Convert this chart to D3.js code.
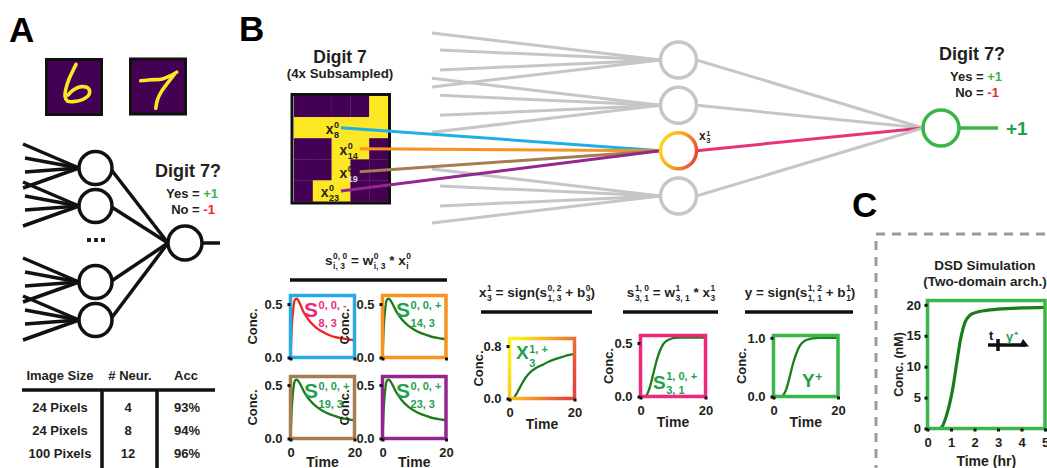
<!DOCTYPE html>
<html>
<head>
<meta charset="utf-8">
<script src="https://cdn.jsdelivr.net/npm/d3@7"></script>
<style>
  body { margin: 0; background: #fff; }
  svg text { font-family: "Liberation Sans", Arial, Helvetica, sans-serif; font-weight: bold; white-space: pre; }
</style>
</head>
<body>
<div id="chart"></div>
<script>
// ---- data ----
const tableHeaders = ['Image Size', '# Neur.', 'Acc'];
const tableImageSize = ['24 Pixels', '24 Pixels', '100 Pixels'];
const tableNeurons = ['4', '8', '12'];
const tableAcc = ['93%', '94%', '96%'];

// 28x28 MNIST strokes (pixel units)
const digit6Stroke = [[15.1,1.8],[13.6,4.8],[11.5,9.3],[9.7,14.7],[9.2,19.2],[10.4,21.5],[13.6,21.9],[19,20.6],[22.2,17.9],[21.7,14.7],[18.1,13.8],[13.6,15.6],[10.9,18.3]];
const digit7Bar = [[4.7,10.9],[10.1,10.4],[16.4,9.9],[20.8,8.1],[24.1,6.3]];
const digit7Stem = [[22.6,7.7],[19.1,12.2],[15.8,16.8],[13.7,21.2],[12.8,25.7]];

// 4x subsampled digit 7 (5x5)
const subsampledGrid = [
  [0,0,0,0,1],
  [1,1,1,1,1],
  [0,0,1,1,0],
  [0,0,1,0,0],
  [0,1,1,0,0]
];
const inputPixels = [8, 14, 19, 23];

// small plots
const tPulse = [0,0.5,1,1.5,2,2.5,3,4,5,6,8,10,12,14,16,18,20];
const s8Minus  = [0,0.33,0.49,0.545,0.55,0.53,0.5,0.43,0.38,0.34,0.28,0.24,0.21,0.19,0.18,0.17,0.16];
const s14Plus  = [0,0.33,0.49,0.545,0.55,0.535,0.51,0.45,0.4,0.36,0.3,0.26,0.23,0.21,0.19,0.18,0.17];
const s19Plus  = [0,0.33,0.49,0.545,0.55,0.535,0.51,0.45,0.4,0.36,0.3,0.26,0.23,0.21,0.19,0.18,0.17];
const s23Plus  = [0,0.33,0.49,0.545,0.55,0.535,0.51,0.45,0.4,0.36,0.3,0.26,0.23,0.21,0.19,0.18,0.17];
const s14Minus = [0,0,0,0,0,0,0,0,0,0,0,0,0,0,0,0,0];

const tX = [0,1,2,3,4,5,6,8,10,12,14,16,18,20];
const x3Plus = [0,0,0.06,0.15,0.24,0.32,0.38,0.46,0.51,0.56,0.6,0.63,0.66,0.68];

const tS = [0,1,1.5,2,3,4,5,6,7,8,9,10,12,14,16,18,20];
const s31Plus = [0,0,0,0.02,0.1,0.22,0.34,0.43,0.49,0.52,0.535,0.545,0.55,0.55,0.55,0.55,0.55];

const tY = [0,2,2.5,3,4,5,6,7,8,9,10,11,12,14,16,18,20];
const yPlus = [0,0,0,0.02,0.13,0.33,0.55,0.72,0.85,0.92,0.96,0.98,0.99,1.0,1.0,1.0,1.0];

// DSD simulation (hours, nM)
const tDSD = [0,0.5,0.6,0.8,1.0,1.1,1.2,1.3,1.4,1.5,1.6,1.8,2.0,2.5,3,4,5];
const dsdYPlus = [0,0,0.2,2,5,7,9.5,12,14.3,16,17.2,18.3,18.7,19.1,19.3,19.5,19.6];
const dsdYMinus = [0,0,0,0,0,0,0,0,0,0,0,0,0,0,0,0,0];
const dsdYTicks = [0,5,10,15,20];
const dsdXTicks = [0,1,2,3,4,5];

// ---- colours ----
const ink = '#231f20';
const purple = '#440154', yellow = '#fde725';
const green = '#39b54a', curveGreen = '#1a7d1a', labelGreen = '#1fa04e';
const red = '#ee2424', pink = '#ec2a7c';

const svg = d3.select('#chart').append('svg').attr('width', 1047).attr('height', 468);
const defs = svg.append('defs');
const grad = (id, stops) => {
  const lg = defs.append('linearGradient').attr('id', id).attr('x1', 0).attr('y1', 0.3).attr('x2', 1).attr('y2', 0.7);
  stops.forEach(([o, c]) => lg.append('stop').attr('offset', o).attr('stop-color', c));
};
grad('ringGrad', [[0, '#ffd51e'], [0.5, '#f8a21e'], [1, '#e8453c']]);
grad('frameGrad', [[0, '#fcee21'], [0.45, '#f7a51e'], [1, '#e6453c']]);

// text with stacked super/subscripts
function richText(parent, x, y, parts, o) {
  const g = parent.append('g');
  const fill = o.fill || ink;
  let cx = 0;
  parts.forEach(p => {
    if (p.t) {
      const t = g.append('text').attr('x', cx).attr('y', 0).attr('font-size', o.size).attr('fill', fill).text(p.t);
      cx += t.node().getComputedTextLength();
    }
    let w = 0;
    if (p.sup) {
      const s = g.append('text').attr('x', cx + 0.5).attr('y', o.supY).attr('font-size', o.small).attr('fill', fill).text(p.sup);
      w = Math.max(w, s.node().getComputedTextLength() + 0.5);
    }
    if (p.sub) {
      const s = g.append('text').attr('x', cx + 0.5).attr('y', o.subY).attr('font-size', o.small).attr('fill', p.subFill || fill).text(p.sub);
      w = Math.max(w, s.node().getComputedTextLength() + 0.5);
    }
    cx += w;
  });
  const shift = o.anchor === 'middle' ? cx / 2 : o.anchor === 'end' ? cx : 0;
  g.attr('transform', `translate(${x - shift},${y})`);
  return g;
}

function yesNo(cx, y0, size) {
  svg.append('text').attr('x', cx).attr('y', y0).attr('text-anchor', 'middle').attr('font-size', size).attr('fill', ink).text('Digit 7?');
  const t1 = svg.append('text').attr('x', cx + 4).attr('y', y0 + 21).attr('text-anchor', 'middle').attr('font-size', 13).attr('fill', ink);
  t1.append('tspan').text('Yes = ');
  t1.append('tspan').attr('fill', green).text('+1');
  const t2 = svg.append('text').attr('x', cx + 5).attr('y', y0 + 37).attr('text-anchor', 'middle').attr('font-size', 13).attr('fill', ink);
  t2.append('tspan').text('No = ');
  t2.append('tspan').attr('fill', red).text('-1');
}

// panel letters
[['A', 9, 42], ['B', 239, 41], ['C', 852, 217]].forEach(([t, x, y]) =>
  svg.append('text').attr('x', x).attr('y', y).attr('font-size', 35).attr('fill', '#000').text(t));

// ================= Panel A =================
function digitBox(x0, y0, strokes) {
  const s = d3.scaleLinear().domain([0, 28]).range([0, 52]);
  const g = svg.append('g').attr('transform', `translate(${x0},${y0})`);
  g.append('rect').attr('x', 1.5).attr('y', 1.5).attr('width', 55).attr('height', 55)
    .attr('fill', purple).attr('stroke', '#111').attr('stroke-width', 3);
  strokes.forEach(st => g.append('path').datum(st).attr('transform', 'translate(3,3)')
    .attr('fill', 'none').attr('stroke', yellow).attr('stroke-width', 3.6)
    .attr('stroke-linecap', 'round').attr('stroke-linejoin', 'round')
    .attr('d', d3.line().x(d => s(d[0])).y(d => s(d[1])).curve(d3.curveCatmullRom)));
}
digitBox(45, 58, [digit6Stroke]);
digitBox(129, 57.5, [digit7Bar, digit7Stem]);

const yA = d3.scaleLinear().domain([0, 4]).range([168, 320]);
const aNeurons = [0, 1, 3, 4];
const aOut = { x: 185, y: 243 };
const aOffsets = [-24, -10, 4, 20], aStartX = [23, 25, 25, 23];
aNeurons.forEach(i => {
  aOffsets.forEach((o, k) => svg.append('line')
    .attr('x1', aStartX[k]).attr('y1', yA(i) + o).attr('x2', 79).attr('y2', yA(i))
    .attr('stroke', '#111').attr('stroke-width', 3.5));
  svg.append('line').attr('x1', 110).attr('y1', yA(i)).attr('x2', aOut.x - 17).attr('y2', aOut.y)
    .attr('stroke', '#111').attr('stroke-width', 3.5);
});
aNeurons.forEach(i => svg.append('circle').attr('cx', 95.5).attr('cy', yA(i)).attr('r', 16.5)
  .attr('fill', '#fff').attr('stroke', '#111').attr('stroke-width', 3.5));
svg.append('line').attr('x1', aOut.x).attr('y1', aOut.y).attr('x2', 220).attr('y2', aOut.y)
  .attr('stroke', '#111').attr('stroke-width', 3.5);
svg.append('circle').attr('cx', aOut.x).attr('cy', aOut.y).attr('r', 17)
  .attr('fill', '#fff').attr('stroke', '#111').attr('stroke-width', 3.5);
[-7, 0, 7].forEach(d => svg.append('rect').attr('x', 94 + d).attr('y', yA(2) - 6).attr('width', 4).attr('height', 4).attr('fill', '#222'));
yesNo(188, 177, 18);

// table
const colX = [60, 130, 186];
tableHeaders.forEach((h, i) => svg.append('text').attr('x', colX[i]).attr('y', 380)
  .attr('text-anchor', 'middle').attr('font-size', 13).attr('fill', ink).text(h));
svg.append('line').attr('x1', 22).attr('x2', 215).attr('y1', 390).attr('y2', 390).attr('stroke', '#111').attr('stroke-width', 3.5);
[102, 157].forEach(x => svg.append('line').attr('x1', x).attr('x2', x).attr('y1', 390).attr('y2', 468).attr('stroke', '#111').attr('stroke-width', 3.5));
const rowY = d3.scalePoint().domain(d3.range(tableImageSize.length)).range([412, 458]);
const cellX = [60, 128, 187];
[tableImageSize, tableNeurons, tableAcc].forEach((col, c) => col.forEach((v, r) =>
  svg.append('text').attr('x', cellX[c]).attr('y', rowY(r))
    .attr('text-anchor', 'middle').attr('font-size', 13).attr('fill', ink).text(v)));

// ================= Panel B =================
svg.append('text').attr('x', 340).attr('y', 63).attr('text-anchor', 'middle').attr('font-size', 17.5).attr('fill', ink).text('Digit 7');
svg.append('text').attr('x', 340).attr('y', 78).attr('text-anchor', 'middle').attr('font-size', 13.3).attr('fill', ink).text('(4x Subsampled)');

const gx = d3.scaleBand().domain(d3.range(5)).range([294, 388]);
const gy = d3.scaleBand().domain(d3.range(5)).range([96, 201.5]);
subsampledGrid.forEach((row, r) => row.forEach((v, c) => svg.append('rect')
  .attr('x', gx(c)).attr('y', gy(r)).attr('width', gx.bandwidth() + 0.3).attr('height', gy.bandwidth() + 0.3)
  .attr('fill', v ? yellow : purple)));
svg.append('rect').attr('x', 292).attr('y', 94.5).attr('width', 97.5).attr('height', 108.5)
  .attr('fill', 'none').attr('stroke', '#111').attr('stroke-width', 3);

const yB = d3.scaleLinear().domain([0, 3]).range([60, 196]);
const hidX = 678.5, hidR = 18;
const bOut = { x: 941, y: 128 };
const bOffsets = [-27, -10, 10, 27], bStartX = [432, 440, 440, 432];
const grey = '#c6c6c6';
[0, 1, 3].forEach(i => bOffsets.forEach((o, k) => svg.append('line')
  .attr('x1', bStartX[k]).attr('y1', yB(i) + o).attr('x2', hidX - hidR).attr('y2', yB(i))
  .attr('stroke', grey).attr('stroke-width', 3)));

const pixColors = ['#1eaee8', '#f7931e', '#a67c52', '#93278f'];
inputPixels.forEach((p, k) => {
  const r = Math.floor((p - 1) / 5), c = (p - 1) % 5;
  const sx = gx(c) + gx.bandwidth() / 2, sy = gy(r) + gy.bandwidth() / 2 + (k === 2 ? 2 : 0);
  svg.append('line').attr('x1', sx).attr('y1', sy).attr('x2', hidX - hidR).attr('y2', yB(2))
    .attr('stroke', pixColors[k]).attr('stroke-width', 3);
  const onDark = !subsampledGrid[r][c];
  richText(svg, sx - 2, sy + 6, [{ t: 'x', sup: '0', sub: String(p), subFill: onDark ? '#d9d3e0' : ink }],
    { size: 14, small: 9, supY: -5.5, subY: 4, anchor: 'end', fill: ink });
});

[0, 1, 2, 3].forEach(i => svg.append('line').attr('x1', hidX + hidR).attr('y1', yB(i))
  .attr('x2', bOut.x - 18).attr('y2', bOut.y)
  .attr('stroke', i === 2 ? '#e8317a' : grey).attr('stroke-width', 3));
[0, 1, 2, 3].forEach(i => svg.append('circle').attr('cx', hidX).attr('cy', yB(i)).attr('r', hidR)
  .attr('fill', '#fff').attr('stroke', i === 2 ? 'url(#ringGrad)' : grey).attr('stroke-width', 3.5));
richText(svg, 699, 140, [{ t: 'x', sup: '1', sub: '3' }], { size: 12, small: 7.5, supY: -4.5, subY: 3, fill: ink });

svg.append('line').attr('x1', bOut.x).attr('y1', bOut.y).attr('x2', 998).attr('y2', bOut.y).attr('stroke', green).attr('stroke-width', 3.5);
svg.append('circle').attr('cx', bOut.x).attr('cy', bOut.y).attr('r', 18).attr('fill', '#fff').attr('stroke', green).attr('stroke-width', 3.5);
svg.append('text').attr('x', 1006).attr('y', 134.5).attr('font-size', 19).attr('fill', labelGreen).text('+1');
yesNo(972, 60, 18);

// formulas
const fOpts = { size: 13.5, small: 8.5, supY: -6, subY: 4, anchor: 'middle', fill: ink };
richText(svg, 368, 265, [{ t: 's', sup: '0, 0', sub: 'i, 3' }, { t: ' = w', sup: '0', sub: 'i, 3' }, { t: ' * x', sup: '0', sub: 'i' }], fOpts);
richText(svg, 537, 297, [{ t: 'x', sup: '1', sub: '3' }, { t: ' = sign(s', sup: '0, 2', sub: '1, 3' }, { t: ' + b', sup: '0', sub: '3' }, { t: ')' }], fOpts);
richText(svg, 671, 297, [{ t: 's', sup: '1, 0', sub: '3, 1' }, { t: ' = w', sup: '1', sub: '3, 1' }, { t: ' * x', sup: '1', sub: '3' }], fOpts);
richText(svg, 800, 297, [{ t: 'y = sign(s', sup: '1, 2', sub: '1, 1' }, { t: ' + b', sup: '1', sub: '1' }, { t: ')' }], fOpts);
[[290, 447, 280], [481, 592, 312], [623, 718, 312], [745, 853, 312]].forEach(([a, b, y]) =>
  svg.append('line').attr('x1', a).attr('x2', b).attr('y1', y).attr('y2', y).attr('stroke', '#111').attr('stroke-width', 3.5));

function styleAxis(g) {
  g.attr('font-size', null).attr('font-family', null);
  g.select('.domain').remove();
  g.selectAll('.tick line').attr('stroke', '#111').attr('stroke-width', 3);
  g.selectAll('.tick text').attr('font-size', 13).attr('fill', ink);
}

function miniPlot(p) {
  const g = svg.append('g');
  const x = d3.scaleLinear().domain(p.xDomain || [0, 20]).range([p.x0, p.x1]);
  const y = d3.scaleLinear().domain([0, p.ymax]).range([p.y1, p.y0]);
  p.series.forEach(s => g.append('path').datum(s.t.map((t, i) => [t, s.v[i]]))
    .attr('fill', 'none').attr('stroke', s.color).attr('stroke-width', s.w || 2.3)
    .attr('d', d3.line().x(d => x(d[0])).y(d => y(d[1])).curve(d3.curveMonotoneX)));
  g.append('rect').attr('x', p.x0).attr('y', p.y0).attr('width', p.x1 - p.x0).attr('height', p.y1 - p.y0)
    .attr('fill', 'none').attr('stroke', p.frame).attr('stroke-width', 3.5);
  g.append('g').attr('transform', `translate(${p.x0},0)`)
    .call(d3.axisLeft(y).tickValues(p.yTicks).tickSize(3).tickPadding(p.yPad || 5).tickFormat(p.yFmt || d3.format('.1f')))
    .call(styleAxis);
  g.append('g').attr('transform', `translate(0,${p.y1})`)
    .call(d3.axisBottom(x).tickValues(p.xTicks || [0, 20]).tickSize(3).tickPadding(6).tickFormat(p.xLabels ? d3.format('d') : ''))
    .call(styleAxis);
  if (p.xLabels) g.append('text').attr('x', (p.x0 + p.x1) / 2).attr('y', p.y1 + (p.timeDy || 30)).attr('text-anchor', 'middle')
    .attr('font-size', 14).attr('fill', ink).text(p.xTitle || 'Time');
  g.append('text').attr('transform', `translate(${p.x0 + p.concDx},${(p.y0 + p.y1) / 2}) rotate(-90)`)
    .attr('text-anchor', 'middle').attr('dy', '0.35em').attr('font-size', p.concSize || 13).attr('fill', ink).text(p.yTitle || 'Conc.');
  if (p.label) richText(g, p.label.x, p.label.y, p.label.parts, p.label.o);
  return { x, y, g };
}

const sOpts = f => ({ size: 21, small: 11, supY: -8, subY: 10, fill: f });
miniPlot({ x0: 290.5, x1: 354.5, y0: 295.5, y1: 357.5, ymax: 0.58, yTicks: [0, 0.5], frame: '#29abe2', concDx: -38,
  series: [{ t: tPulse, v: s8Minus, color: red }],
  label: { x: 304, y: 317, parts: [{ t: 'S', sup: '0, 0, -', sub: '8, 3' }], o: sOpts(pink) } });
miniPlot({ x0: 382.5, x1: 446, y0: 295.5, y1: 357.5, ymax: 0.58, yTicks: [0, 0.5], frame: '#f7931e', concDx: -38,
  series: [{ t: tPulse, v: s14Minus, color: red, w: 1.5 }, { t: tPulse, v: s14Plus, color: curveGreen }],
  label: { x: 396, y: 317, parts: [{ t: 'S', sup: '0, 0, +', sub: '14, 3' }], o: sOpts(labelGreen) } });
miniPlot({ x0: 290.5, x1: 354.5, y0: 376.5, y1: 438.5, ymax: 0.58, yTicks: [0, 0.5], frame: '#a67c52', concDx: -38, xLabels: true, timeDy: 28.5,
  series: [{ t: tPulse, v: s19Plus, color: curveGreen }],
  label: { x: 304, y: 398, parts: [{ t: 'S', sup: '0, 0, +', sub: '19, 3' }], o: sOpts(labelGreen) } });
miniPlot({ x0: 382.5, x1: 446, y0: 376.5, y1: 438.5, ymax: 0.58, yTicks: [0, 0.5], frame: '#93278f', concDx: -38, xLabels: true, timeDy: 28.5,
  series: [{ t: tPulse, v: s23Plus, color: curveGreen }],
  label: { x: 396, y: 398, parts: [{ t: 'S', sup: '0, 0, +', sub: '23, 3' }], o: sOpts(labelGreen) } });

miniPlot({ x0: 509.5, x1: 574.5, y0: 338.5, y1: 398.5, ymax: 0.915, yTicks: [0, 0.8], frame: 'url(#frameGrad)', concDx: -31, xLabels: true,
  series: [{ t: tX, v: x3Plus, color: curveGreen }],
  label: { x: 516, y: 359, parts: [{ t: 'X', sup: '1, +', sub: '3' }], o: { size: 19, small: 11, supY: -6, subY: 8, fill: labelGreen } } });
miniPlot({ x0: 640.5, x1: 705.5, y0: 335.5, y1: 396.5, ymax: 0.57, yTicks: [0, 0.5], frame: '#ec2a7c', concDx: -32, xLabels: true,
  series: [{ t: tS, v: s31Plus, color: curveGreen }],
  label: { x: 653, y: 389, parts: [{ t: 'S', sup: '1, 0, +', sub: '3, 1' }], o: { size: 19, small: 11, supY: -9, subY: 5, fill: labelGreen } } });
miniPlot({ x0: 773.5, x1: 838, y0: 335.5, y1: 396.5, ymax: 1.04, yTicks: [0, 1.0], frame: green, concDx: -32, xLabels: true,
  series: [{ t: tY, v: yPlus, color: curveGreen }],
  label: { x: 802, y: 387, parts: [{ t: 'Y', sup: '+' }], o: { size: 19, small: 12, supY: -6, subY: 0, fill: labelGreen } } });

// ================= Panel C =================
svg.append('rect').attr('x', 876).attr('y', 234).attr('width', 300).attr('height', 300)
  .attr('fill', 'none').attr('stroke', '#9a9a9a').attr('stroke-width', 3).attr('stroke-dasharray', '9,7');
svg.append('text').attr('x', 985).attr('y', 270).attr('text-anchor', 'middle').attr('font-size', 13.5).attr('fill', ink).text('DSD Simulation');
svg.append('text').attr('x', 985).attr('y', 286).attr('text-anchor', 'middle').attr('font-size', 13.5).attr('fill', ink).text('(Two-domain arch.)');
const cPlot = miniPlot({ x0: 927.5, x1: 1045, y0: 300.5, y1: 428.5, ymax: 20.7, xDomain: [0, 5],
  yTicks: dsdYTicks, xTicks: dsdXTicks, yFmt: d3.format('d'), yPad: 3.5, frame: green, concDx: -29, concSize: 12.5,
  xLabels: true, xTitle: 'Time (hr)', timeDy: 37, yTitle: 'Conc. (nM)',
  series: [{ t: tDSD, v: dsdYMinus, color: '#f05a4a', w: 1.5 }, { t: tDSD, v: dsdYPlus, color: curveGreen, w: 3.2 }] });

// strand glyph
const gl = cPlot.g;
gl.append('line').attr('x1', 988).attr('x2', 1026).attr('y1', 345).attr('y2', 345).attr('stroke', '#111').attr('stroke-width', 3.5);
gl.append('line').attr('x1', 998).attr('x2', 998).attr('y1', 339).attr('y2', 351).attr('stroke', '#111').attr('stroke-width', 3.5);
gl.append('path').attr('d', 'M1019,346.5 L1029,346.5 L1023,339 Z').attr('fill', '#111');
gl.append('text').attr('x', 989).attr('y', 340).attr('font-size', 13).attr('fill', '#111').text('t');
richText(gl, 1006, 341, [{ t: 'y', sup: '+' }], { size: 13, small: 8, supY: -5, subY: 0, fill: labelGreen });
</script>
</body>
</html>
